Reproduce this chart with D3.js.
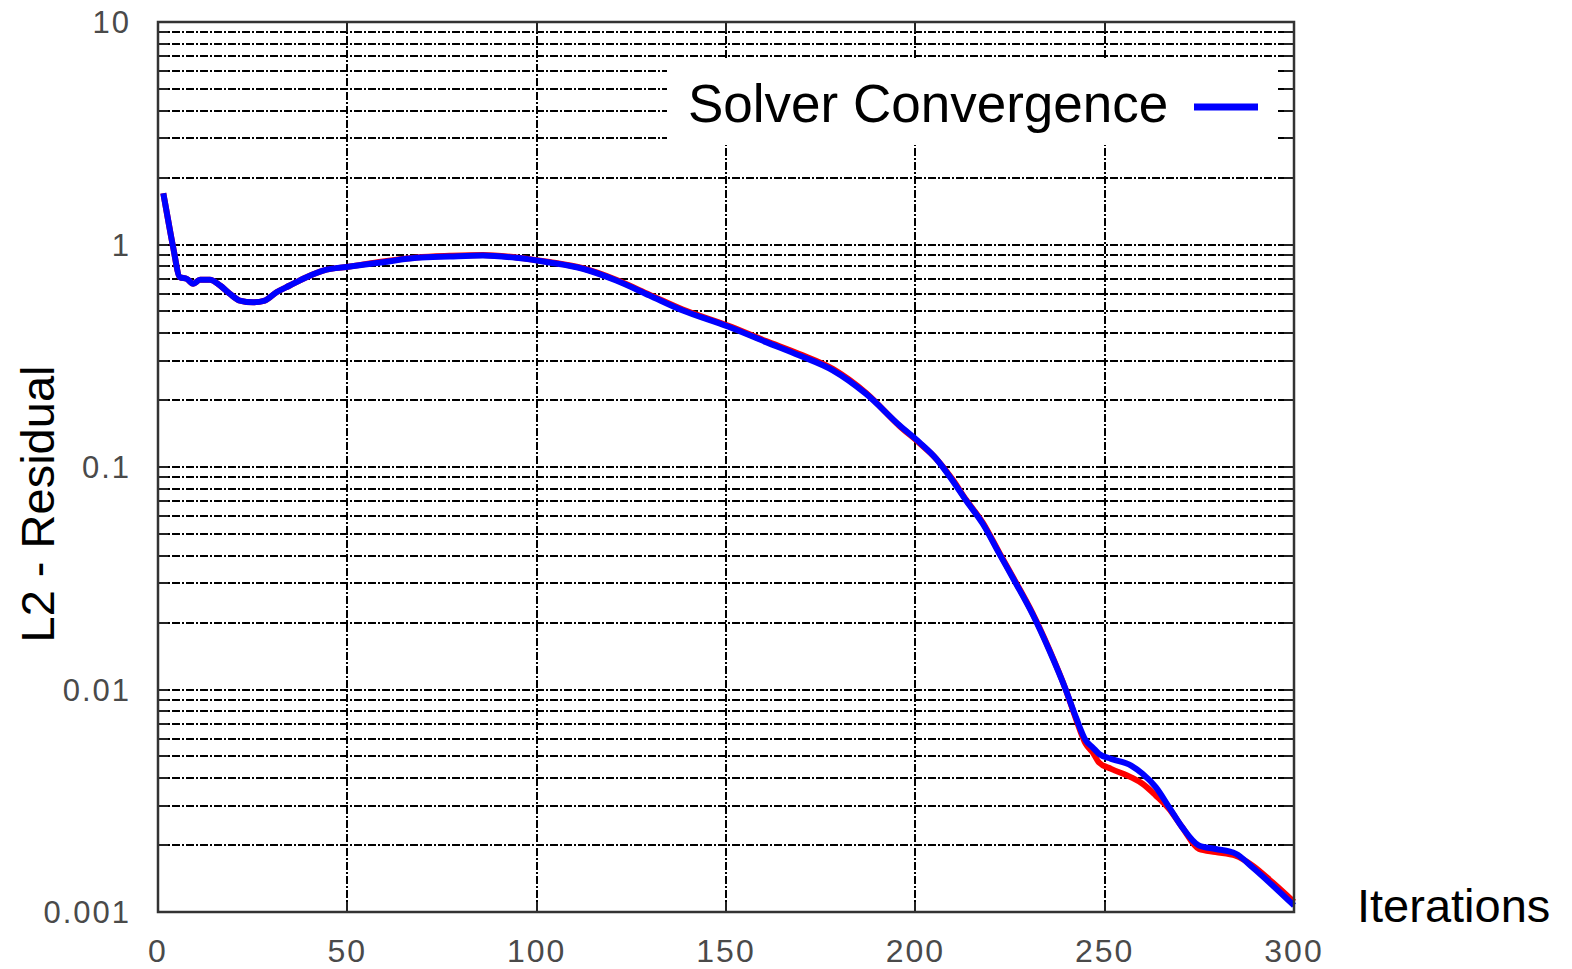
<!DOCTYPE html>
<html>
<head>
<meta charset="utf-8">
<script src="https://cdn.jsdelivr.net/npm/d3@7"></script>
<style>
  html, body { margin: 0; padding: 0; background: #fff; }
  svg { display: block; }
</style>
</head>
<body>
<div id="chart"></div>
<script>
// ── Solver convergence: L2 residual vs iterations (log y) ──

const iterations = [1.4, 2.7, 4.0, 5.8, 7.6, 9.3, 11.1, 13.7, 16.4, 19.0, 21.6, 25.1, 28.2, 31.3, 34.8, 39.2, 43.6, 50.7, 59.4, 68.3,
  77.0, 85.8, 94.6, 103.4, 112.2, 121.0, 129.8, 138.6, 150.5, 160.6, 169.4, 178.2, 187.0, 195.8, 201.1, 205.5, 209.8, 213.4, 217.8, 222.2,
  226.6, 230.9, 235.4, 239.8, 242.4, 245.0, 246.8, 248.5, 251.7, 257.0, 260.0, 263.5, 267.0, 270.5, 274.9, 279.3, 284.6, 289.0, 294.3, 300];

// blue series (the one in the legend)
const blueResidual = [1.70, 1.28, 0.972, 0.713, 0.701, 0.666, 0.694, 0.694, 0.654, 0.600, 0.560, 0.550, 0.560, 0.610, 0.654, 0.713, 0.764, 0.796, 0.833, 0.871,
  0.883, 0.892, 0.871, 0.830, 0.778, 0.689, 0.590, 0.505, 0.428, 0.364, 0.317, 0.272, 0.213, 0.154, 0.129, 0.109, 0.087, 0.0707, 0.0556, 0.0407,
  0.0299, 0.0219, 0.01497, 0.0099, 0.00751, 0.0059, 0.0055, 0.00514, 0.00488, 0.00455, 0.00418, 0.00364, 0.00296, 0.0024, 0.00199, 0.00192, 0.00183, 0.00159, 0.00132, 0.00107];

// red series, drawn underneath, only visible near the tail
const redResidual = [1.70, 1.28, 0.972, 0.713, 0.701, 0.666, 0.694, 0.694, 0.654, 0.600, 0.560, 0.550, 0.560, 0.610, 0.654, 0.713, 0.764, 0.796, 0.840, 0.875,
  0.890, 0.898, 0.875, 0.834, 0.782, 0.694, 0.595, 0.510, 0.432, 0.368, 0.322, 0.276, 0.215, 0.153, 0.128, 0.109, 0.088, 0.0712, 0.0562, 0.0411,
  0.0302, 0.0221, 0.0151, 0.0099, 0.0074, 0.0057, 0.00523, 0.0047, 0.0044, 0.00403, 0.00377, 0.00334, 0.00291, 0.0024, 0.00192, 0.00186, 0.00179, 0.00162, 0.00136, 0.00111];

const xTicks = [0, 50, 100, 150, 200, 250, 300];
const yTicks = [0.001, 0.01, 0.1, 1, 10];
const yTickLabels = ['0.001', '0.01', '0.1', '1', '10'];

const W = 1572, H = 969;
const plotLeft = 158, plotRight = 1294, plotTop = 22, plotBottom = 912;

const svg = d3.select('#chart').append('svg')
  .attr('width', W)
  .attr('height', H)
  .attr('viewBox', [0, 0, W, H]);

const x = d3.scaleLinear().domain([0, 300]).range([plotLeft, plotRight]);
const y = d3.scaleLog().domain([0.001, 10]).range([plotBottom, plotTop]);

// minor + major y grid values
const yGrid = y.ticks().filter(v => v > 0.001 && v < 10);
const xGrid = xTicks.filter(v => v > 0 && v < 300);

const dash = '8,2,2,2';

// Horizontal grid
svg.append('g')
  .attr('stroke', '#000')
  .attr('stroke-width', 2)
  .attr('stroke-dasharray', dash)
  .attr('shape-rendering', 'crispEdges')
  .selectAll('line')
  .data(yGrid)
  .join('line')
  .attr('x1', plotLeft).attr('x2', plotRight)
  .attr('y1', d => Math.round(y(d))).attr('y2', d => Math.round(y(d)));

// Vertical grid
svg.append('g')
  .attr('stroke', '#000')
  .attr('stroke-width', 2)
  .attr('stroke-dasharray', dash)
  .attr('shape-rendering', 'crispEdges')
  .selectAll('line')
  .data(xGrid)
  .join('line')
  .attr('x1', d => Math.round(x(d))).attr('x2', d => Math.round(x(d)))
  .attr('y1', plotTop).attr('y2', plotBottom);

// Solid tick marks on all four sides
const tickG = svg.append('g').attr('stroke', '#222').attr('stroke-width', 2)
  .attr('shape-rendering', 'crispEdges');
yGrid.forEach(v => {
  const yy = Math.round(y(v));
  tickG.append('line').attr('x1', plotLeft).attr('x2', plotLeft + 10).attr('y1', yy).attr('y2', yy);
  tickG.append('line').attr('x1', plotRight - 10).attr('x2', plotRight).attr('y1', yy).attr('y2', yy);
});
xGrid.forEach(v => {
  const xx = Math.round(x(v));
  tickG.append('line').attr('x1', xx).attr('x2', xx).attr('y1', plotTop).attr('y2', plotTop + 10);
  tickG.append('line').attr('x1', xx).attr('x2', xx).attr('y1', plotBottom - 10).attr('y2', plotBottom);
});

// Legend box (blanks the grid behind it)
svg.append('rect')
  .attr('x', 667).attr('y', 60)
  .attr('width', 611).attr('height', 85)
  .attr('fill', '#fff');

// Curves
const line = (vals) => d3.line()
  .x((d, i) => x(iterations[i]))
  .y(d => y(d))
  .curve(d3.curveMonotoneX)(vals);

svg.append('path')
  .attr('d', line(redResidual))
  .attr('fill', 'none')
  .attr('stroke', '#ff0000')
  .attr('stroke-width', 6)
  .attr('stroke-linejoin', 'round');

svg.append('path')
  .attr('d', line(blueResidual))
  .attr('fill', 'none')
  .attr('stroke', '#0000ff')
  .attr('stroke-width', 6)
  .attr('stroke-linejoin', 'round');

// Frame
svg.append('rect')
  .attr('x', plotLeft).attr('y', plotTop)
  .attr('width', plotRight - plotLeft).attr('height', plotBottom - plotTop)
  .attr('fill', 'none')
  .attr('stroke', '#333')
  .attr('stroke-width', 2.5);

// Tick labels
const tickFont = "'Liberation Sans', Arial, sans-serif";
svg.append('g')
  .selectAll('text')
  .data(yTicks)
  .join('text')
  .attr('x', 131)
  .attr('y', d => y(d))
  .attr('dy', '0.36em')
  .attr('text-anchor', 'end')
  .attr('font-family', tickFont)
  .attr('font-size', 31)
  .attr('letter-spacing', 2)
  .attr('fill', '#4a4a4a')
  .text((d, i) => yTickLabels[i]);

svg.append('g')
  .selectAll('text')
  .data(xTicks)
  .join('text')
  .attr('x', d => x(d))
  .attr('y', 962)
  .attr('text-anchor', 'middle')
  .attr('font-family', tickFont)
  .attr('font-size', 32)
  .attr('letter-spacing', 2)
  .attr('fill', '#4a4a4a')
  .text(d => d);

// Axis titles
svg.append('text')
  .attr('transform', 'translate(54,504) rotate(-90)')
  .attr('text-anchor', 'middle')
  .attr('font-family', tickFont)
  .attr('font-size', 47)
  .attr('fill', '#000')
  .text('L2 - Residual');

svg.append('text')
  .attr('x', 1357).attr('y', 922)
  .attr('font-family', tickFont)
  .attr('font-size', 47)
  .attr('fill', '#000')
  .text('Iterations');

// Legend entry
svg.append('text')
  .attr('x', 688).attr('y', 122)
  .attr('font-family', tickFont)
  .attr('font-size', 53)
  .attr('fill', '#000')
  .text('Solver Convergence');

svg.append('line')
  .attr('x1', 1194).attr('x2', 1258)
  .attr('y1', 107).attr('y2', 107)
  .attr('stroke', '#0000ff')
  .attr('stroke-width', 7);
</script>
</body>
</html>
